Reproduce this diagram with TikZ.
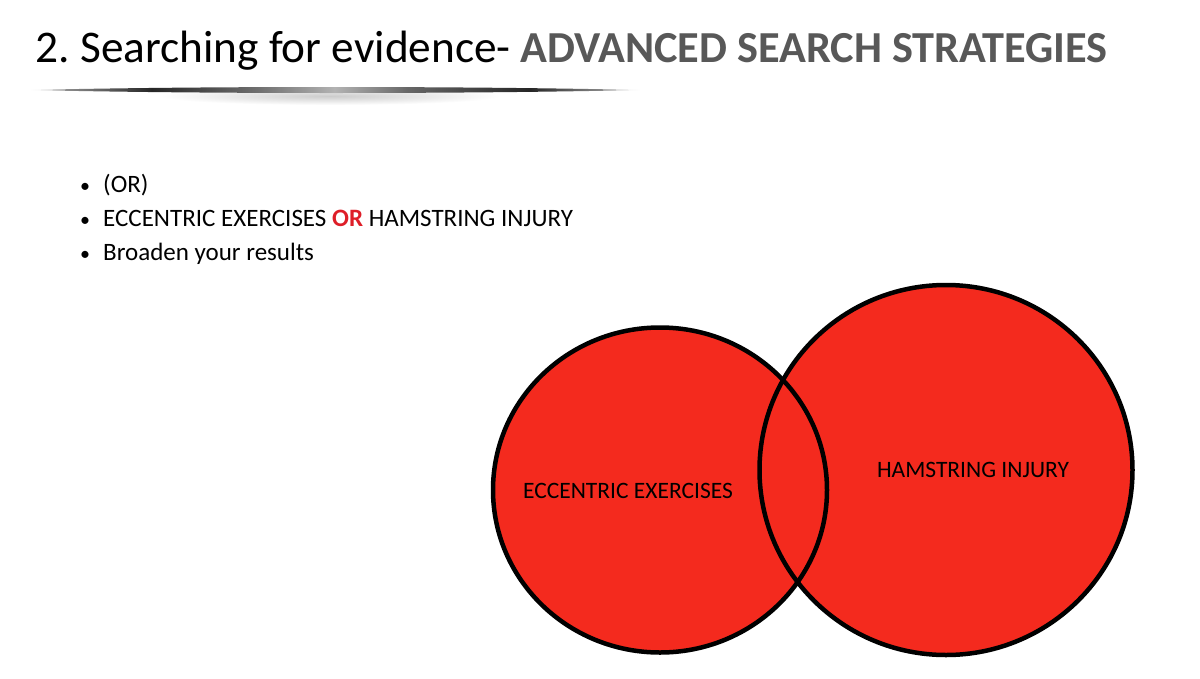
\documentclass[tikz,border=0pt]{standalone}
\usepackage{fontspec}
\setmainfont{Carlito}
\usetikzlibrary{shapes.geometric}
\definecolor{vennred}{RGB}{244,42,30}
\definecolor{orred}{RGB}{222,30,40}
\definecolor{titlegray}{RGB}{88,88,88}
\pgfdeclarehorizontalshading{titlebar}{100bp}{color(0bp)=(white); color(25bp)=(white); color(28bp)=(black!45); color(35bp)=(black!85); color(44bp)=(black!55); color(50bp)=(black!30); color(56bp)=(black!60); color(66bp)=(black!85); color(72bp)=(black!45); color(75bp)=(white); color(100bp)=(white)}
\begin{document}
\begin{tikzpicture}[x=1pt,y=-1pt,
  venn/.style={ellipse, inner sep=0pt},
  vennlabel/.style={font=\fontsize{23.5}{27}\selectfont, text=black, inner sep=0pt},
  bulletdot/.style={anchor=base west, inner sep=0pt, font=\fontsize{20}{24}\selectfont},
  bulletline/.style={anchor=base west, inner sep=0pt, font=\fontsize{25}{29}\selectfont}]
\useasboundingbox (0,0) rectangle (1200,678);
\fill[white] (0,0) rectangle (1200,678);
% title
\node[anchor=base west, inner sep=0pt] (title) at (35,62)
  {\fontsize{45.3}{50}\selectfont 2.\hspace{-3pt} Searching for evidence-};
\node[anchor=base west, inner sep=0pt] (title2) at ([xshift=9pt]title.base east)
  {\fontsize{44.3}{48}\selectfont\bfseries\color{titlegray}ADVANCED SEARCH STRATEGIES};
% shadow bar
\shade[inner color=black!20, outer color=white] (330,96) ellipse [x radius=170, y radius=9];
\shade[shading=titlebar] (30,90) .. controls (200,86) and (460,86) .. (640,90) .. controls (460,94) and (200,94) .. (30,90) -- cycle;
% bullets
\node[bulletdot] (d1) at (80,192) {•};
\node[bulletdot] (d2) at (80,226) {•};
\node[bulletdot] (d3) at (80,260) {•};
\node[bulletline] (b1) at (103,192) {(OR)};
\node[bulletline] (b2) at (103,226) {ECCENTRIC EXERCISES {\bfseries\color{orred}OR} HAMSTRING INJURY};
\node[bulletline] (b3) at (103,260) {Broaden your results};
% venn
\node[venn, fill=vennred, minimum width=334pt, minimum height=325pt] (left) at (660,490) {};
\node[venn, fill=vennred, minimum width=373pt, minimum height=370pt] (right) at (946,470) {};
\draw[line width=4.5pt] (left.center) ellipse [x radius=167, y radius=162.5];
\draw[line width=4.5pt] (right.center) ellipse [x radius=186.5, y radius=185];
\node[vennlabel] (lt) at (628,491) {ECCENTRIC EXERCISES};
\node[vennlabel] (rt) at (973,470) {HAMSTRING INJURY};
\end{tikzpicture}
\end{document}
